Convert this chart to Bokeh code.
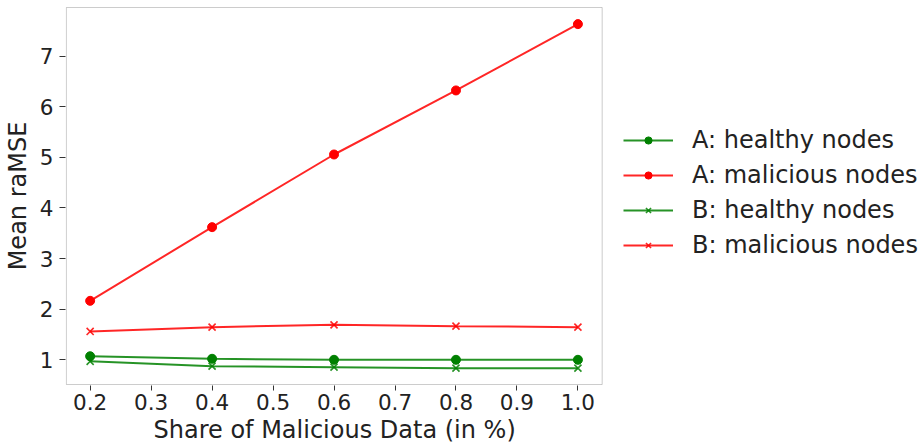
from bokeh.plotting import figure
from bokeh.models import Range1d, FixedTicker, PrintfTickFormatter, Legend, LegendItem, BoxAnnotation, Title
from bokeh.embed import file_html
from bokeh.resources import INLINE

x_share = [0.2, 0.4, 0.6, 0.8, 1.0]
a_healthy = [1.07, 1.02, 1.00, 1.00, 1.00]
a_malicious = [2.165, 3.62, 5.055, 6.32, 7.63]
b_healthy = [0.97, 0.875, 0.855, 0.835, 0.835]
b_malicious = [1.56, 1.645, 1.69, 1.665, 1.645]

x_ticks = [0.2, 0.3, 0.4, 0.5, 0.6, 0.7, 0.8, 0.9, 1.0]
y_ticks = [1, 2, 3, 4, 5, 6, 7]

# visible axes box (data units); the drawing area extends right to hold the legend
box_x = (0.161, 1.0398)
box_y = (0.512, 7.958)

FONT = "DejaVu Sans"
GREEN = "#008000"
RED = "#ff0000"
TEXT = "#222222"

p = figure(width=918, height=445, output_backend="svg", toolbar_location=None,
           x_range=Range1d(0.15957, 1.5586), y_range=Range1d(0.4924, 7.978),
           min_border_left=63, min_border_right=0, min_border_top=6, min_border_bottom=60)

p.grid.visible = False
p.outline_line_color = None
p.background_fill_color = "white"
p.border_fill_color = "white"

p.add_layout(BoxAnnotation(left=box_x[0], right=box_x[1], bottom=box_y[0], top=box_y[1],
                           fill_alpha=0, line_color="#555555", line_width=1, level="underlay"))

for ax in (p.xaxis[0], p.yaxis[0]):
    ax.axis_line_color = None
    ax.minor_tick_line_color = None
    ax.major_tick_in = 0
    ax.major_tick_out = 6
    ax.major_tick_line_color = "#333333"
    ax.major_label_text_font = FONT
    ax.major_label_text_font_size = "21.5px"
    ax.major_label_text_color = TEXT
    ax.axis_label_text_font = FONT
    ax.axis_label_text_font_size = "24px"
    ax.axis_label_text_font_style = "normal"
    ax.axis_label_text_color = TEXT

p.xaxis.ticker = FixedTicker(ticks=x_ticks)
p.xaxis.formatter = PrintfTickFormatter(format="%.1f")
p.yaxis.ticker = FixedTicker(ticks=y_ticks)
p.yaxis.axis_label = "Mean raMSE"
p.xaxis.major_tick_out = 5
p.xaxis.major_label_standoff = 3
p.yaxis.major_label_standoff = 6
p.yaxis.axis_label_standoff = 5

# x-axis label centred under the visible box, not under the wider drawing area
p.add_layout(Title(text="Share of Malicious Data (in %)", align="left", offset=88, standoff=2,
                   text_font=FONT, text_font_size="24px", text_font_style="normal",
                   text_color=TEXT), "below")

series = [
    ("A: healthy nodes", a_healthy, GREEN, "circle"),
    ("A: malicious nodes", a_malicious, RED, "circle"),
    ("B: healthy nodes", b_healthy, GREEN, "x"),
    ("B: malicious nodes", b_malicious, RED, "x"),
]

items = []
for label, ys, color, marker in series:
    lr = p.line(x_share, ys, line_color=color, line_width=2, line_alpha=0.85)
    if marker == "circle":
        sr = p.scatter(x_share, ys, marker="circle", size=9, fill_color=color, line_color=color)
    else:
        sr = p.scatter(x_share, ys, marker="x", size=10, line_color=color, line_width=1.6, line_alpha=0.85)
    items.append(LegendItem(label=label, renderers=[lr, sr]))

legend = Legend(items=items, location=(558, 126), orientation="vertical",
                border_line_color=None, background_fill_alpha=0,
                padding=0, margin=0, spacing=7,
                glyph_width=50, glyph_height=18, label_height=28,
                label_standoff=19,
                label_text_font=FONT, label_text_font_size="24px",
                label_text_color=TEXT)
p.add_layout(legend, "center")

open("out.html", "w").write(file_html(p, INLINE))
